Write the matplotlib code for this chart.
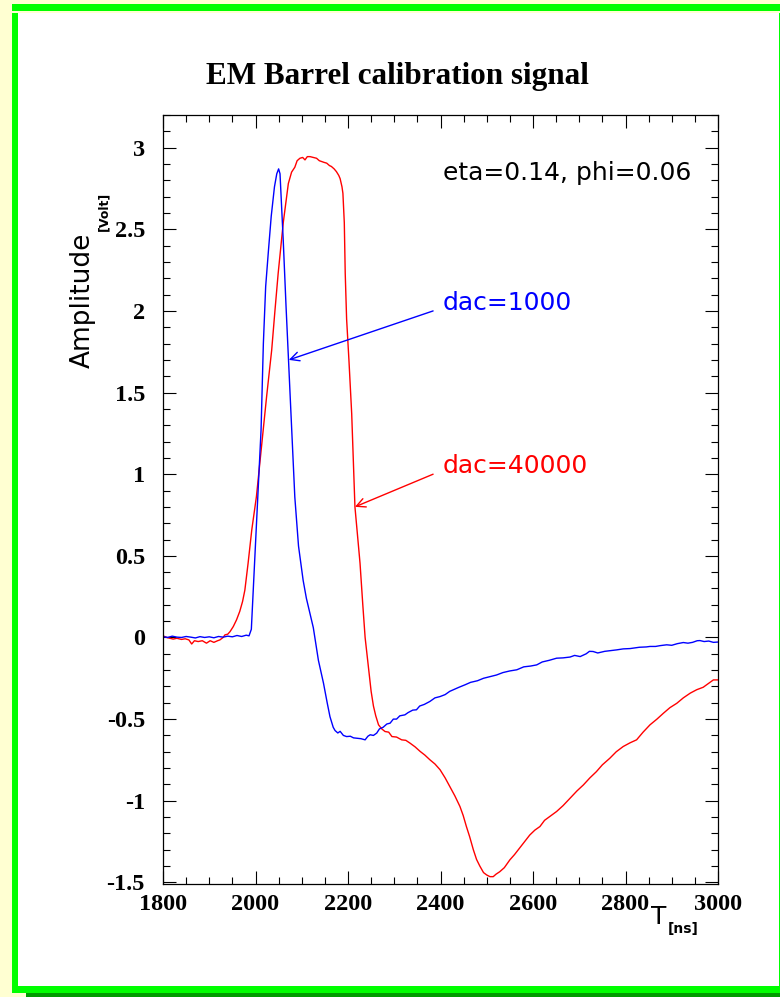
import matplotlib.pyplot as plt
from matplotlib.patches import Rectangle
from matplotlib.ticker import MultipleLocator

# pulse shapes for the two DAC settings (time in ns, amplitude in volt)
t_dac1000 = [1800, 1810, 1820, 1830, 1840, 1850, 1860, 1870, 1880, 1890,
             1900, 1910, 1920, 1930, 1940, 1950, 1960, 1970, 1980, 1986,
             1991, 1998, 2005, 2012, 2017, 2022, 2028, 2034, 2041, 2046,
             2050, 2053, 2060, 2066, 2071, 2075, 2080, 2085, 2093, 2103,
             2110, 2120, 2125, 2136, 2147, 2155, 2161, 2168, 2172, 2178,
             2183, 2190, 2197, 2205, 2212, 2219, 2228, 2237, 2243, 2248,
             2255, 2262, 2268, 2276, 2284, 2291, 2298, 2305, 2312, 2323,
             2330, 2340, 2348, 2355, 2365, 2377, 2388, 2399, 2410, 2420,
             2428, 2440, 2453, 2465, 2480, 2493, 2507, 2521, 2535, 2550,
             2565, 2580, 2595, 2608, 2620, 2635, 2651, 2665, 2680, 2690,
             2702, 2715, 2722, 2730, 2740, 2755, 2770, 2781, 2795, 2810,
             2817, 2830, 2845, 2853, 2865, 2875, 2889, 2900, 2912, 2925,
             2935, 2945, 2955, 2961, 2970, 2980, 2990, 3000]
a_dac1000 = [0.005, 0.0, 0.008, 0.002, 0.0, 0.006, 0.002, -0.003, 0.005, 0.0,
             0.004, -0.002, 0.006, 0.002, 0.008, 0.004, 0.012, 0.006, 0.014, 0.01,
             0.05, 0.46, 0.86, 1.27, 1.80, 2.15, 2.37, 2.58, 2.76, 2.84,
             2.87, 2.84, 2.43, 2.03, 1.72, 1.48, 1.17, 0.86, 0.56, 0.35,
             0.24, 0.12, 0.06, -0.14, -0.28, -0.40, -0.485, -0.55, -0.57, -0.585,
             -0.575, -0.60, -0.607, -0.605, -0.615, -0.617, -0.62, -0.627, -0.605, -0.596,
             -0.60, -0.586, -0.56, -0.55, -0.53, -0.525, -0.50, -0.50, -0.48, -0.474,
             -0.46, -0.445, -0.443, -0.42, -0.41, -0.392, -0.37, -0.362, -0.35, -0.33,
             -0.32, -0.305, -0.29, -0.275, -0.265, -0.25, -0.24, -0.23, -0.215, -0.205,
             -0.198, -0.18, -0.175, -0.168, -0.15, -0.14, -0.127, -0.125, -0.12, -0.11,
             -0.117, -0.10, -0.085, -0.086, -0.095, -0.085, -0.08, -0.076, -0.07, -0.068,
             -0.065, -0.06, -0.058, -0.055, -0.055, -0.05, -0.045, -0.048, -0.038, -0.031,
             -0.035, -0.03, -0.02, -0.019, -0.025, -0.022, -0.03, -0.028]

t_dac40000 = [1800, 1808, 1815, 1822, 1830, 1840, 1848, 1856, 1862, 1868,
              1876, 1885, 1894, 1902, 1910, 1918, 1923, 1930, 1934, 1940,
              1945, 1952, 1959, 1966, 1972, 1977, 1984, 1992, 2002, 2013,
              2024, 2035, 2042, 2049, 2060, 2071, 2078, 2085, 2090, 2096,
              2102, 2107, 2112, 2118, 2125, 2132, 2138, 2143, 2148, 2154,
              2160, 2164, 2170, 2175, 2180, 2183, 2187, 2189, 2192, 2194,
              2197, 2202, 2208, 2215, 2226, 2232, 2237, 2244, 2250, 2255,
              2260, 2266, 2273, 2280, 2288, 2295, 2305, 2316, 2325, 2334,
              2345, 2356, 2366, 2377, 2388, 2399, 2410, 2420, 2431, 2442,
              2449, 2456, 2463, 2471, 2478, 2485, 2493, 2500, 2507, 2514,
              2520, 2528, 2538, 2550, 2560, 2571, 2582, 2593, 2604, 2615,
              2625, 2636, 2644, 2651, 2665, 2680, 2695, 2709, 2723, 2737,
              2750, 2766, 2780, 2795, 2810, 2824, 2838, 2853, 2868, 2882,
              2896, 2911, 2925, 2940, 2954, 2968, 2980, 2990, 3000]
a_dac40000 = [0.01, 0.0, -0.005, -0.01, -0.005, -0.012, -0.008, -0.015, -0.04, -0.02,
              -0.025, -0.02, -0.035, -0.02, -0.03, -0.02, -0.015, 0.0, 0.016, 0.02,
              0.036, 0.067, 0.108, 0.16, 0.22, 0.29, 0.455, 0.66, 0.863, 1.17,
              1.475, 1.76, 2.0, 2.23, 2.54, 2.78, 2.85, 2.88, 2.92, 2.935,
              2.94, 2.925, 2.945, 2.945, 2.94, 2.935, 2.92, 2.915, 2.91, 2.905,
              2.89, 2.885, 2.87, 2.853, 2.83, 2.81, 2.76, 2.72, 2.54, 2.23,
              1.95, 1.70, 1.37, 0.80, 0.455, 0.20, 0.0, -0.178, -0.33, -0.42,
              -0.48, -0.535, -0.56, -0.576, -0.58, -0.607, -0.61, -0.627, -0.63, -0.647,
              -0.67, -0.698, -0.72, -0.749, -0.775, -0.81, -0.86, -0.912, -0.97, -1.035,
              -1.09, -1.158, -1.22, -1.30, -1.36, -1.40, -1.44, -1.455, -1.465, -1.465,
              -1.45, -1.435, -1.41, -1.362, -1.33, -1.29, -1.25, -1.21, -1.18, -1.158,
              -1.12, -1.097, -1.08, -1.066, -1.03, -0.985, -0.94, -0.903, -0.86, -0.822,
              -0.78, -0.74, -0.70, -0.668, -0.645, -0.627, -0.58, -0.535, -0.50, -0.464,
              -0.43, -0.403, -0.37, -0.341, -0.32, -0.305, -0.28, -0.26, -0.26]

W, H = 780, 997
fig = plt.figure(figsize=(W / 100, H / 100), dpi=100, facecolor='#ffffd2')


def frame(x0, y0, x1, y1, color):
    # rectangle given in pixel corners (top-left origin)
    fig.patches.append(Rectangle((x0 / W, 1 - y1 / H), (x1 - x0) / W, (y1 - y0) / H,
                                 transform=fig.transFigure, facecolor=color,
                                 edgecolor='none', zorder=-5))


# canvas border
frame(18, 13, 779, 986, 'white')
frame(12, 4, 780, 11, '#00ff00')
frame(12, 13, 18, 993, '#00ff00')
frame(18, 986, 780, 993, '#00ff00')
frame(779, 13, 780, 986, '#00ff00')
frame(26, 993, 780, 997, '#009a00')

ax = fig.add_axes([163 / W, 1 - 884 / H, (718 - 163) / W, (884 - 115) / H])
ax.set_zorder(2)
ax.plot(t_dac40000, a_dac40000, color='red', lw=1.0)
ax.plot(t_dac1000, a_dac1000, color='blue', lw=1.0)

ax.set_xlim(1800, 3000)
ax.set_ylim(-1.51, 3.2)
ax.xaxis.set_major_locator(MultipleLocator(200))
ax.xaxis.set_minor_locator(MultipleLocator(50))
ax.yaxis.set_major_locator(MultipleLocator(0.5))
ax.yaxis.set_minor_locator(MultipleLocator(0.1))
ax.tick_params(which='both', direction='in', top=True, right=True, width=0.8)
ax.tick_params(which='major', length=9.5)
ax.tick_params(which='minor', length=5)
ax.tick_params(axis='x', pad=7)
ax.tick_params(axis='y', pad=13)
ax.yaxis.set_major_formatter(plt.FuncFormatter(lambda v, p: f'{v:g}'))
for lab in ax.get_xticklabels() + ax.get_yticklabels():
    lab.set_fontfamily('Liberation Serif')
    lab.set_fontweight('bold')
    lab.set_fontsize(17.5)
for s in ax.spines.values():
    s.set_linewidth(0.9)

fig.text(397 / W, 1 - 84 / H, 'EM Barrel calibration signal', ha='center',
         va='baseline', family='Liberation Serif', weight='bold', fontsize=22.4)

# axis titles with bracketed unit subscripts
fig.text(96 / W, 1 - 368 / H, 'Amplitude', rotation=90, ha='right', va='bottom',
         family='DejaVu Sans', fontsize=19)
fig.text(110 / W, 1 - 231 / H, '[Volt]', rotation=90, ha='right', va='bottom',
         family='DejaVu Sans', weight='bold', fontsize=9)
fig.text(651 / W, 1 - 924 / H, 'T', ha='left', va='baseline',
         family='DejaVu Sans', fontsize=18)
fig.text(668 / W, 1 - 933 / H, '[ns]', ha='left', va='baseline',
         family='DejaVu Sans', weight='bold', fontsize=10)

ax.text(2405, 2.845, 'eta=0.14, phi=0.06', va='center', ha='left',
        family='DejaVu Sans', fontsize=18)
ax.text(2405, 2.05, 'dac=1000', color='blue', va='center', ha='left',
        family='DejaVu Sans', fontsize=18)
ax.text(2405, 1.05, 'dac=40000', color='red', va='center', ha='left',
        family='DejaVu Sans', fontsize=18)
ax.annotate('', xy=(2072, 1.70), xytext=(2384, 2.0),
            arrowprops=dict(arrowstyle='->', color='blue', lw=1.0, mutation_scale=16,
                            shrinkA=0, shrinkB=0))
ax.annotate('', xy=(2215, 0.80), xytext=(2384, 1.0),
            arrowprops=dict(arrowstyle='->', color='red', lw=1.0, mutation_scale=16,
                            shrinkA=0, shrinkB=0))

fig.savefig('out.png', dpi=100, facecolor=fig.get_facecolor())
